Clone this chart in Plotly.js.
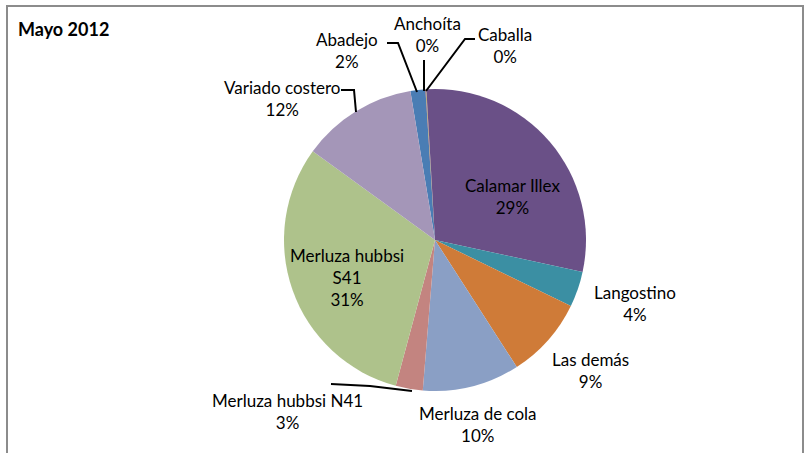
<!DOCTYPE html>
<html><head><meta charset="utf-8">
<script src="https://cdn.plot.ly/plotly-3.0.1.min.js"></script>
<style>body{margin:0;background:#fff}#c{width:808px;height:453px}</style>
</head><body><div id="c"></div>
<script>
const categories = ["Abadejo","Anchoíta","Caballa","Calamar Illex","Langostino","Las demás","Merluza de cola","Merluza hubbsi N41","Merluza hubbsi S41","Variado costero"];
const values = [1.6, 0.05, 0.05, 29.3, 3.8, 8.7, 10.4, 2.9, 30.8, 12.4];
const colors = ["#4A7DB4","#C0504D","#9BBB59","#6A5087","#3B8FA3","#CF7B38","#8A9FC5","#C38480","#AEC28B","#A496B8"];
const chartTitle = "Mayo 2012";

const W = 808, H = 453;
const px = x => x / W, py = y => 1 - y / H;
const total = values.reduce((a, b) => a + b, 0);
const pct = values.map(v => Math.round(v / total * 100) + "%");
const FONT = "Lato, 'Noto Sans', sans-serif";

// label placement (pixel centres) and leader lines
const labelPos = {
  "Abadejo": [347, 50, "Abadejo"],
  "Anchoíta": [427, 35, "Anchoíta"],
  "Caballa": [505, 46, "Caballa"],
  "Calamar Illex": [512, 196, "Calamar Illex"],
  "Langostino": [635, 303, "Langostino"],
  "Las demás": [590, 370, "Las demás"],
  "Merluza de cola": [478, 424, "Merluza de cola"],
  "Merluza hubbsi N41": [287, 411, "Merluza hubbsi N41"],
  "Merluza hubbsi S41": [347, 277, "Merluza hubbsi<br>S41"],
  "Variado costero": [282, 98, "Variado costero"]
};
const annotations = categories.map((c, i) => {
  const p = labelPos[c];
  return {
    x: px(p[0]), y: py(p[1]), xref: "paper", yref: "paper",
    text: p[2] + "<br>" + pct[i], showarrow: false,
    xanchor: "center", yanchor: "middle", align: "center",
    font: {family: FONT, size: 17, color: "#000"}
  };
});

function path(pts) {
  return {type: "path", xref: "paper", yref: "paper",
    path: pts.map((p, k) => (k ? "L" : "M") + px(p[0]) + "," + py(p[1])).join(" "),
    line: {color: "#000", width: 2}};
}
const shapes = [
  {type: "rect", xref: "paper", yref: "paper", x0: px(7), x1: px(803), y0: py(6), y1: py(470),
   line: {color: "#8C8C8C", width: 2}, fillcolor: "rgba(0,0,0,0)", layer: "below"},
  path([[387, 43], [398, 43], [417, 92]]),
  path([[424, 60], [424, 91]]),
  path([[475, 39], [465, 39], [426, 91]]),
  path([[341, 90], [354, 90], [356, 112]]),
  path([[331, 384], [370, 386], [412, 391]])
];

const trace = {
  type: "pie", labels: categories, values: values, sort: false,
  direction: "clockwise", rotation: -9.4,
  marker: {colors: colors, line: {width: 0}},
  textinfo: "none", hoverinfo: "label+percent",
  domain: {x: [px(284), px(586)], y: [py(391), py(89)]}
};

Plotly.newPlot("c", [trace], {
  width: W, height: H, margin: {l: 0, r: 0, t: 0, b: 0},
  paper_bgcolor: "#fff", showlegend: false,
  title: {text: "<b>" + chartTitle + "</b>", x: px(18), xanchor: "left", y: py(30), yanchor: "middle",
    font: {family: FONT, size: 18, color: "#000"}},
  annotations: annotations, shapes: shapes
}, {displayModeBar: false});
</script></body></html>
